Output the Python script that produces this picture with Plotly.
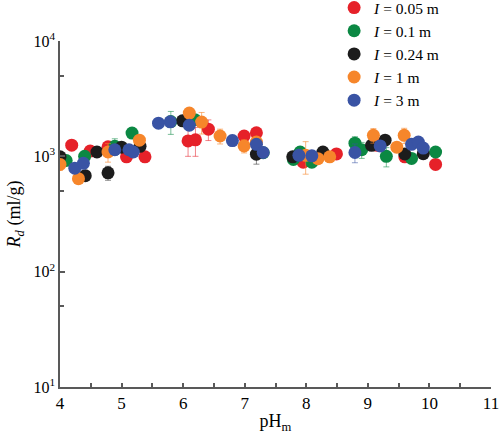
import plotly.graph_objects as go

# ---- data ----
red_x = [4.19, 4.49, 4.78, 5.08, 5.38, 6.08, 6.20, 6.41, 6.99, 7.19, 7.95, 8.49, 9.14, 9.60, 10.10]
red_y = [1250, 1110, 1210, 990, 990, 1360, 1390, 1720, 1500, 1600, 890, 1050, 1250, 990, 850]
red_e = [0, 0, 60, 0, 0, 360, 390, 350, 0, 0, 0, 0, 0, 0, 0]

green_x = [4.10, 4.40, 4.89, 5.17, 5.80, 6.19, 7.30, 7.79, 7.90, 8.09, 8.79, 8.90, 9.30, 9.71, 10.10]
green_y = [920, 1000, 1220, 1590, 2000, 2080, 1075, 940, 1090, 890, 1300, 1140, 1000, 960, 1090]
green_e = [0, 0, 200, 0, 450, 0, 0, 0, 0, 0, 180, 180, 190, 0, 60]

black_x = [4.00, 4.41, 4.60, 4.78, 5.00, 5.30, 5.99, 7.19, 7.78, 8.27, 9.06, 9.28, 9.60, 9.90]
black_y = [990, 680, 1090, 720, 1200, 1220, 2030, 1045, 990, 1090, 1245, 1380, 1050, 1055]
black_e = [60, 0, 0, 100, 0, 0, 0, 190, 0, 60, 0, 0, 0, 0]

orange_x = [4.00, 4.30, 4.78, 5.29, 6.10, 6.30, 6.60, 6.99, 7.19, 7.99, 8.19, 8.38, 9.09, 9.47, 9.59]
orange_y = [850, 640, 1090, 1380, 2370, 1980, 1500, 1230, 1330, 1020, 955, 990, 1520, 1200, 1520]
orange_e = [90, 40, 200, 120, 120, 420, 220, 160, 0, 320, 0, 0, 220, 0, 230]

blue_x = [4.24, 4.38, 4.89, 5.12, 5.19, 5.60, 5.79, 6.10, 6.80, 7.19, 7.30, 7.88, 8.09, 8.79, 9.20, 9.71, 9.82, 9.90]
blue_y = [790, 870, 1140, 1140, 1090, 1940, 1990, 1860, 1370, 1270, 1080, 1020, 1010, 1080, 1230, 1270, 1330, 1180]
blue_e = [60, 0, 0, 0, 0, 0, 0, 0, 150, 0, 0, 0, 0, 200, 0, 0, 60, 0]

labels = ["0.05", "0.1", "0.24", "1", "3"]

series = [
    (labels[0], red_x, red_y, red_e, "#e62129", "rgba(230,33,41,0.55)"),
    (labels[1], green_x, green_y, green_e, "#0b8843", "rgba(11,136,67,0.55)"),
    (labels[2], black_x, black_y, black_e, "#1c1c1c", "rgba(28,28,28,0.5)"),
    (labels[3], orange_x, orange_y, orange_e, "#f6862b", "rgba(246,134,43,0.6)"),
    (labels[4], blue_x, blue_y, blue_e, "#3953a4", "rgba(57,83,164,0.55)"),
]

y_tickvals = [10, 100, 1000, 10000]
y_ticktext = ["10<sup>1</sup>", "10<sup>2</sup>", "10<sup>3</sup>", "10<sup>4</sup>"]
x_tickvals = [4, 5, 6, 7, 8, 9, 10, 11]

fig = go.Figure()
for lab, xs, ys, es, col, ecol in series:
    fig.add_trace(go.Scatter(
        x=xs, y=ys, mode="markers",
        name="<i>I</i> = " + lab + " m",
        marker=dict(size=13, color=col, line=dict(width=0)),
        error_y=dict(type="data", array=es, visible=True, color=ecol, thickness=1, width=3),
    ))

font_family = "Liberation Serif"
axis_col = "#595959"

fig.update_layout(
    width=500, height=440,
    margin=dict(l=60, r=9, t=41, b=53, autoexpand=False),
    plot_bgcolor="white", paper_bgcolor="white",
    font=dict(family=font_family, size=17, color="black"),
    showlegend=True,
    legend=dict(x=0.636, y=1.1445, xanchor="left", yanchor="top",
                bgcolor="rgba(0,0,0,0)", font=dict(size=15.5), tracegroupgap=0,
                itemwidth=30),
    xaxis=dict(
        range=[4, 11], tickvals=x_tickvals, showgrid=False, zeroline=False,
        showline=True, linecolor=axis_col, linewidth=1.5,
        ticks="inside", ticklen=4, tickcolor=axis_col, tickwidth=1.5,
        minor=dict(dtick=0.5, ticks="inside", ticklen=4, tickcolor=axis_col, tickwidth=1.5),
        tickfont=dict(size=17),
        title=dict(text="pH<sub>m</sub>", font=dict(size=18), standoff=2),
    ),
    yaxis=dict(
        type="log", range=[1, 4], tickvals=y_tickvals, ticktext=y_ticktext,
        showgrid=False, zeroline=False,
        showline=True, linecolor=axis_col, linewidth=1.5,
        ticks="inside", ticklen=5, tickcolor=axis_col, tickwidth=1.5,
        minor=dict(tickvals=[50, 500, 5000], ticks="inside", ticklen=4, tickcolor=axis_col, tickwidth=1.5),
        tickfont=dict(size=16),
        title=dict(text="<i>R</i><sub><i>d</i></sub> (ml/g)", font=dict(size=18), standoff=8),
    ),
)

fig.write_html("out.html", config={"displayModeBar": False},
               post_script="document.body.style.margin='0';document.body.style.overflow='hidden';")
